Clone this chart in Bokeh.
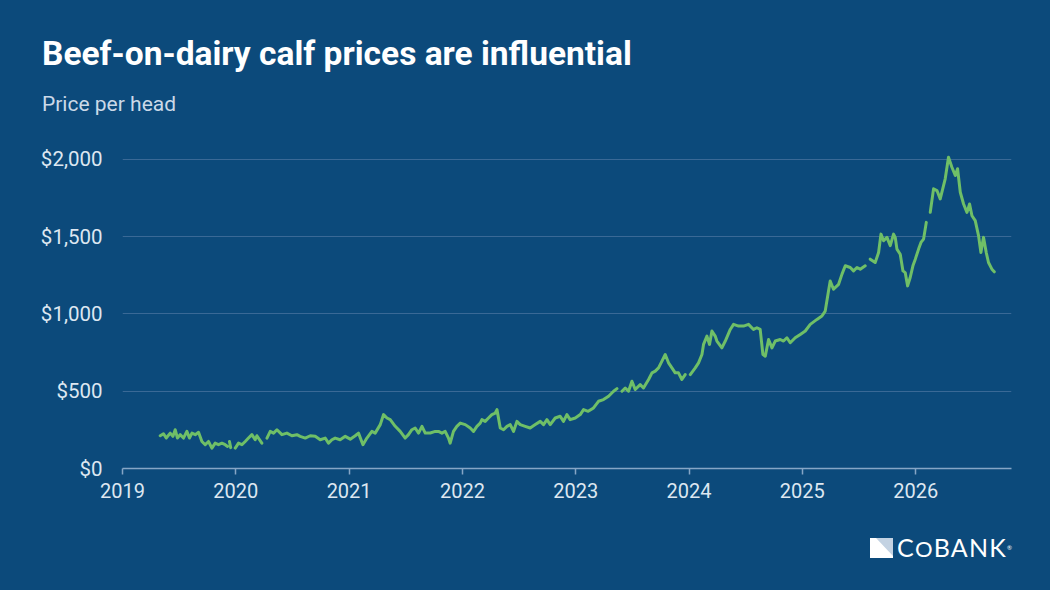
from bokeh.plotting import figure
from bokeh.layouts import column
from bokeh.models import Range1d, FixedTicker, NumeralTickFormatter, Div
from bokeh.embed import file_html
from bokeh.resources import INLINE
import numpy as np

# Weekly beef-on-dairy calf prices (decimal year, $/head); None marks missing weeks
year = [
    2019.333, 2019.362, 2019.386, 2019.421, 2019.445, 2019.465, 2019.485, 2019.509,
    2019.538, 2019.568, 2019.591, 2019.613, 2019.642, 2019.671, 2019.701, 2019.730,
    2019.759, 2019.789, 2019.818, 2019.847, 2019.877, 2019.906, 2019.927,
    2019.936,
    2019.944, 2019.955,
    2019.975,
    2019.995, 2020.024, 2020.054, 2020.083, 2020.112, 2020.142, 2020.171, 2020.186, 2020.230,
    2020.252,
    2020.275, 2020.304, 2020.333, 2020.363, 2020.407, 2020.451, 2020.495, 2020.539,
    2020.568, 2020.613, 2020.657, 2020.701, 2020.745, 2020.789, 2020.818, 2020.848,
    2020.877, 2020.921, 2020.966, 2021.010, 2021.054, 2021.083, 2021.122, 2021.157,
    2021.201, 2021.230, 2021.275, 2021.304, 2021.334, 2021.363, 2021.407, 2021.451,
    2021.495, 2021.524, 2021.554, 2021.583, 2021.613, 2021.643, 2021.672, 2021.716,
    2021.760, 2021.789, 2021.819, 2021.848, 2021.877, 2021.892, 2021.921, 2021.951,
    2021.981, 2022.025, 2022.069, 2022.098, 2022.128, 2022.157, 2022.172, 2022.201,
    2022.230, 2022.260, 2022.290, 2022.305, 2022.334, 2022.363, 2022.393, 2022.422,
    2022.451, 2022.481, 2022.510, 2022.554, 2022.598, 2022.643, 2022.687, 2022.716,
    2022.746, 2022.775, 2022.819, 2022.863, 2022.892, 2022.922, 2022.951, 2022.996,
    2023.040, 2023.069, 2023.110, 2023.157, 2023.201, 2023.245, 2023.290, 2023.334,
    2023.364,
    2023.386,
    2023.408, 2023.437, 2023.466, 2023.496, 2023.525, 2023.569, 2023.598, 2023.643,
    2023.673, 2023.702, 2023.731, 2023.761, 2023.790, 2023.819, 2023.849, 2023.878,
    2023.907, 2023.937, 2023.966,
    2023.988,
    2024.011, 2024.055, 2024.084, 2024.114, 2024.128, 2024.158, 2024.181, 2024.202,
    2024.231, 2024.246, 2024.290, 2024.320, 2024.364, 2024.393, 2024.437, 2024.481,
    2024.525, 2024.569, 2024.599, 2024.628, 2024.652, 2024.673, 2024.702, 2024.732,
    2024.761, 2024.805, 2024.834, 2024.864, 2024.893, 2024.937, 2024.982, 2025.026,
    2025.070, 2025.129, 2025.173, 2025.202, 2025.231, 2025.246, 2025.275, 2025.320,
    2025.350, 2025.379, 2025.423, 2025.452, 2025.482, 2025.511, 2025.555,
    2025.577,
    2025.599, 2025.643, 2025.673, 2025.694, 2025.717, 2025.747, 2025.776, 2025.805,
    2025.820, 2025.835, 2025.864, 2025.888, 2025.908, 2025.929, 2025.952, 2025.976,
    2025.997, 2026.026, 2026.047, 2026.070, 2026.094,
    2026.111,
    2026.129, 2026.158, 2026.188, 2026.217, 2026.261, 2026.290, 2026.320, 2026.350,
    2026.370, 2026.394, 2026.423, 2026.453, 2026.476, 2026.497, 2026.526, 2026.555,
    2026.576, 2026.599, 2026.623, 2026.643, 2026.673, 2026.694,
]

price = [
    212, 225, 197, 229, 208, 251, 197, 219,
    197, 240, 197, 229, 219, 234, 175, 154,
    175, 132, 164, 154, 164, 154, 143,
    None,
    175, 135,
    None,
    132, 164, 154, 175, 197, 219, 186, 212, 164,
    None,
    197, 240, 229, 251, 219, 229, 212, 219,
    208, 197, 212, 208, 186, 197, 164, 186,
    197, 186, 208, 190, 212, 229, 154, 197,
    240, 229, 284, 349, 327, 316, 273, 240,
    197, 219, 251, 262, 229, 273, 229, 230,
    240, 240, 229, 240, 197, 164, 240, 273,
    294, 284, 262, 240, 273, 294, 316, 305,
    327, 349, 359, 381, 262, 251, 273, 284,
    240, 305, 284, 273, 262, 284, 305, 284,
    316, 284, 327, 338, 305, 349, 316, 327,
    349, 381, 370, 392, 435, 446, 468, 500,
    517,
    None,
    500, 521, 500, 565, 511, 543, 521, 576,
    619, 630, 651, 695, 738, 684, 651, 619,
    619, 576, 608,
    None,
    608, 651, 684, 738, 803, 857, 803, 890,
    857, 825, 781, 825, 900, 933, 922, 922,
    933, 900, 911, 900, 738, 727, 835, 781,
    825, 835, 825, 846, 814, 846, 868, 890,
    933, 965, 987, 1019, 1149, 1214, 1160, 1192,
    1258, 1312, 1301, 1279, 1301, 1290, 1312,
    None,
    1355, 1333, 1398, 1517, 1474, 1496, 1442, 1517,
    1496, 1420, 1387, 1279, 1268, 1182, 1236, 1312,
    1355, 1420, 1463, 1485, 1593,
    None,
    1658, 1810, 1799, 1745, 1875, 2015, 1950, 1896,
    1940, 1788, 1712, 1658, 1712, 1636, 1604, 1507,
    1398, 1496, 1398, 1333, 1290, 1273,
]

year_ticks = [2019, 2020, 2021, 2022, 2023, 2024, 2025, 2026]
price_ticks = [0, 500, 1000, 1500, 2000]

title_text = "Beef-on-dairy calf prices are influential"
subtitle_text = "Price per head"

BG = "#0c4a7b"
LINE = "#6fbf67"
TEXT = "#dde7f1"
GRID = "#3a6996"
AXIS = "#86a6c6"
FONT = "Roboto"

# ---- heading ----
head = Div(
    width=1050, height=144,
    text=(
        '<div style="position:relative;width:1050px;height:144px;margin:0;">'
        f'<div style="position:absolute;left:42px;top:37px;font-family:{FONT};'
        'font-weight:bold;font-size:33.5px;line-height:34px;color:#ffffff;'
        f'white-space:nowrap;">{title_text}</div>'
        f'<div style="position:absolute;left:42px;top:94px;font-family:{FONT};'
        'font-size:21px;line-height:21px;color:#cbd9e8;'
        f'white-space:nowrap;">{subtitle_text}</div>'
        '</div>'
    ),
    styles={"background-color": BG, "margin": "0", "padding": "0"},
)

# ---- chart ----
p = figure(
    width=1050, height=366,
    output_backend="svg", toolbar_location=None, title=None,
    x_range=Range1d(2019, 2026.846), y_range=Range1d(0, 2097),
    min_border_left=122, min_border_right=39,
    min_border_top=0, min_border_bottom=42,
    background_fill_color=None, border_fill_color=None,
    outline_line_color=None,
    styles={"background-color": BG},
)

p.line(np.array(year, dtype=float), np.array(price, dtype=float),
       line_color=LINE, line_width=3, line_join="round", line_cap="round")

p.xgrid.visible = False
p.ygrid.ticker = FixedTicker(ticks=price_ticks)
p.ygrid.grid_line_color = GRID
p.ygrid.grid_line_width = 1

yax = p.yaxis[0]
yax.ticker = FixedTicker(ticks=price_ticks)
yax.formatter = NumeralTickFormatter(format="$0,0")
yax.axis_line_color = None
yax.major_tick_line_color = None
yax.minor_tick_line_color = None
yax.major_label_standoff = 14
yax.major_label_text_font = FONT
yax.major_label_text_font_size = "20.5px"
yax.major_label_text_color = TEXT

xax = p.xaxis[0]
xax.ticker = FixedTicker(ticks=year_ticks)
xax.axis_line_color = AXIS
xax.axis_line_width = 1.5
xax.major_tick_line_color = AXIS
xax.major_tick_line_width = 1.5
xax.major_tick_out = 6
xax.major_tick_in = 0
xax.minor_tick_line_color = None
xax.major_label_standoff = 8
xax.major_label_text_font = FONT
xax.major_label_text_font_size = "20px"
xax.major_label_text_color = TEXT

# ---- footer with the brand mark ----
foot = Div(
    width=1050, height=80,
    text=(
        '<div style="position:relative;width:1050px;height:80px;margin:0;">'
        '<svg style="position:absolute;left:870px;top:28px;" width="23" height="20">'
        '<polygon points="0,0 23,0 23,20 0,20" fill="#ffffff"/>'
        '<polygon points="6,0 23,0 23,18" fill="#c3d2e2"/>'
        '</svg>'
        '<div style="position:absolute;left:897px;top:25px;font-family:Lato;'
        'font-size:25px;line-height:25px;letter-spacing:1.2px;color:#ffffff;'
        'white-space:nowrap;">'
        'C<span style="font-size:22px;">O</span>BANK'
        '<span style="font-size:6px;vertical-align:top;letter-spacing:0;">&reg;</span></div>'
        '</div>'
    ),
    styles={"background-color": BG, "margin": "0", "padding": "0"},
)

page = column(head, p, foot, spacing=0, styles={"background-color": BG})

open("out.html", "w").write(file_html(page, INLINE))
